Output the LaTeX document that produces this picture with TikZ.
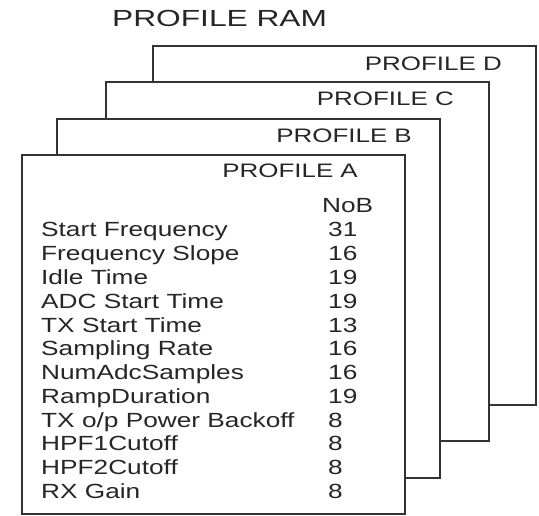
\documentclass[tikz,border=0pt]{standalone}
\usepackage{fontspec}
\newfontfamily\bodyfont[FakeStretch=1.28]{Liberation Sans}
\newfontfamily\labfont[FakeStretch=1.33]{Liberation Sans}
\newfontfamily\ttlfont[FakeStretch=1.36]{Liberation Sans}
\begin{document}
\begin{tikzpicture}[x=1pt,y=-1pt,
  card/.style={draw=black!80, line width=1.4pt, fill=white, anchor=north west,
    minimum width=383pt, minimum height=359pt, inner sep=0pt, outer sep=0pt},
  plabel/.style={anchor=base east, inner sep=0pt, font=\labfont\fontsize{19.5pt}{20pt}\selectfont, text=black!85},
  rowtxt/.style={anchor=base west, inner sep=0pt, font=\bodyfont\fontsize{20.5pt}{21pt}\selectfont, text=black!85},
  ttl/.style={anchor=base west, inner sep=0pt, font=\ttlfont\fontsize{23.3pt}{24pt}\selectfont, text=black!85}]
\useasboundingbox (0,0) rectangle (539,516);
\node[ttl] (title) at (112,27) {PROFILE RAM};
\node[card] (D) at (153,46) {};
\node[plabel] (labD) at (502,71) {PROFILE D};
\node[card] (C) at (106,82) {};
\node[plabel] (labC) at (454,106) {PROFILE C};
\node[card] (B) at (57,119) {};
\node[plabel] (labB) at (412,143) {PROFILE B};
\node[card] (A) at (22,155) {};
\node[plabel] (labA) at (358,178) {PROFILE A};
\node[rowtxt] (nob) at (322,213) {NoB};
\foreach \lab/\num [count=\i from 0] in {Start Frequency/31, Frequency Slope/16, Idle Time/19, ADC Start Time/19, TX Start Time/13, Sampling Rate/16, NumAdcSamples/16, RampDuration/19, {TX o/p Power Backoff}/8, HPF1Cutoff/8, HPF2Cutoff/8, RX Gain/8}{
  \node[rowtxt] (row\i) at (41,237+23.75*\i) {\lab};
  \node[rowtxt] (num\i) at (328,237+23.75*\i) {\num};
}
\end{tikzpicture}
\end{document}
